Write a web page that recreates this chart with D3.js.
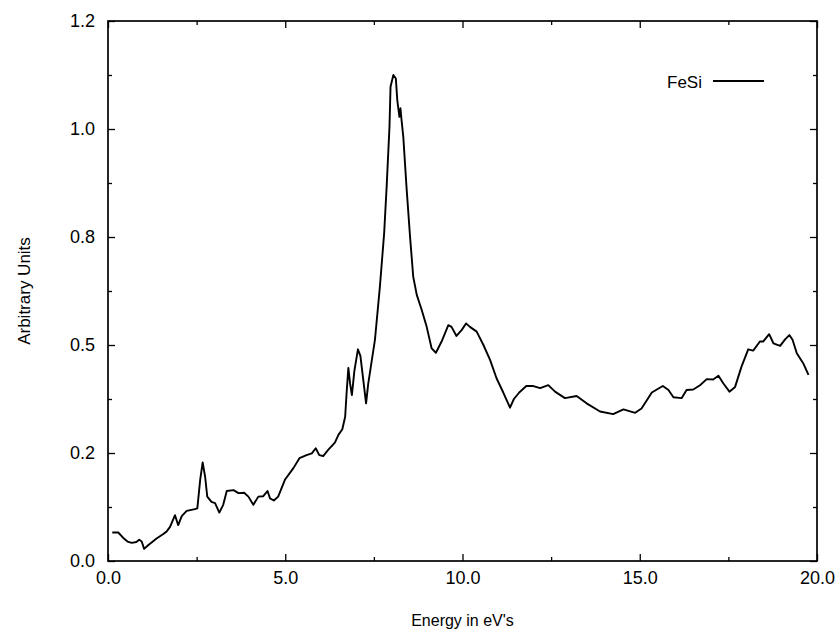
<!DOCTYPE html>
<html>
<head>
<meta charset="utf-8">
<script src="https://cdn.jsdelivr.net/npm/d3@7"></script>
<style>
  body { margin: 0; background: #fff; }
  text { font-family: "Liberation Sans", Arial, sans-serif; fill: #000; }
</style>
</head>
<body>
<svg id="chart" width="838" height="636"></svg>
<script>
// energy (eV) and intensity
var energy = [0.12, 0.29, 0.45, 0.55, 0.67, 0.8, 0.88, 0.95, 1.02, 1.14, 1.37, 1.55, 1.65, 1.75, 1.89, 1.98, 2.08, 2.22, 2.45, 2.52,
  2.6, 2.67, 2.74, 2.8, 2.92, 3.02, 3.14, 3.25, 3.35, 3.54, 3.68, 3.84, 3.96, 4.1, 4.24, 4.38, 4.5, 4.57, 4.68, 4.8,
  4.99, 5.23, 5.4, 5.6, 5.75, 5.86, 5.96, 6.07, 6.21, 6.4, 6.5, 6.61, 6.69, 6.73, 6.78, 6.83, 6.88, 6.95, 7.05, 7.12,
  7.2, 7.28, 7.34, 7.53, 7.67, 7.79, 7.86, 7.94, 7.97, 8.05, 8.12, 8.16, 8.22, 8.25, 8.28, 8.33, 8.42, 8.52, 8.61, 8.71,
  8.85, 8.99, 9.13, 9.25, 9.41, 9.6, 9.69, 9.83, 9.98, 10.1, 10.21, 10.4, 10.59, 10.78, 10.96, 11.15, 11.34, 11.45, 11.6, 11.8,
  12.0, 12.19, 12.42, 12.61, 12.89, 13.22, 13.5, 13.88, 14.25, 14.54, 14.87, 15.05, 15.34, 15.65, 15.81, 15.95, 16.18, 16.32, 16.51, 16.7,
  16.89, 17.07, 17.22, 17.36, 17.53, 17.69, 17.87, 18.06, 18.2, 18.39, 18.48, 18.65, 18.77, 18.96, 19.1, 19.22, 19.31, 19.43, 19.61, 19.76];

var fesi = [0.066, 0.066, 0.052, 0.045, 0.042, 0.044, 0.049, 0.045, 0.028, 0.037, 0.052, 0.062, 0.068, 0.079, 0.106, 0.083, 0.104, 0.116, 0.12, 0.122,
  0.188, 0.228, 0.195, 0.149, 0.137, 0.134, 0.112, 0.13, 0.162, 0.164, 0.157, 0.158, 0.149, 0.13, 0.149, 0.15, 0.162, 0.145, 0.14, 0.149,
  0.188, 0.215, 0.238, 0.245, 0.249, 0.261, 0.245, 0.243, 0.257, 0.274, 0.292, 0.305, 0.334, 0.388, 0.447, 0.41, 0.384, 0.44, 0.49, 0.475,
  0.42, 0.365, 0.41, 0.512, 0.635, 0.759, 0.866, 1.005, 1.098, 1.125, 1.117, 1.067, 1.028, 1.048, 1.021, 0.982, 0.866, 0.751, 0.658, 0.616,
  0.581, 0.542, 0.492, 0.482, 0.508, 0.546, 0.542, 0.521, 0.535, 0.55, 0.542, 0.531, 0.5, 0.465, 0.423, 0.39, 0.355, 0.375, 0.39, 0.405,
  0.405, 0.40, 0.407, 0.392, 0.377, 0.382, 0.365, 0.346, 0.34, 0.351, 0.343, 0.353, 0.39, 0.405, 0.396, 0.379, 0.377, 0.396, 0.397, 0.407,
  0.421, 0.42, 0.429, 0.411, 0.392, 0.403, 0.45, 0.49, 0.487, 0.508, 0.508, 0.525, 0.504, 0.498, 0.513, 0.523, 0.512, 0.481, 0.458, 0.431];

var xTicks = [0, 5, 10, 15, 20];
var xTickLabels = ["0.0", "5.0", "10.0", "15.0", "20.0"];
var yTicks = [0, 0.25, 0.5, 0.75, 1.0, 1.25];
var yTickLabels = ["0.0", "0.2", "0.5", "0.8", "1.0", "1.2"];
var seriesName = "FeSi";

var svg = d3.select("#chart");
var plotLeft = 108, plotRight = 817, plotTop = 21, plotBottom = 561;

var x = d3.scaleLinear().domain([0, 20]).range([plotLeft, plotRight]);
var y = d3.scaleLinear().domain([0, 1.25]).range([plotBottom, plotTop]);

// minor ticks sit halfway between the labelled ones
function minors(ticks) {
  var out = [];
  for (var i = 0; i < ticks.length - 1; i++) out.push((ticks[i] + ticks[i + 1]) / 2);
  return out;
}

function styleAxis(g) {
  g.select(".domain").remove();
  g.selectAll("line").attr("stroke", "#000").attr("stroke-width", 1.3);
  g.selectAll("text").attr("font-size", 18).attr("fill", "#000");
}

// labelled axes, ticks pointing inward
svg.append("g").attr("transform", "translate(0," + plotBottom + ")")
  .call(d3.axisBottom(x).tickValues(xTicks).tickSize(-7).tickPadding(10)
    .tickFormat(function(d, i) { return xTickLabels[i]; }))
  .call(styleAxis);
svg.append("g").attr("transform", "translate(" + plotLeft + ",0)")
  .call(d3.axisLeft(y).tickValues(yTicks).tickSize(-7).tickPadding(13)
    .tickFormat(function(d, i) { return yTickLabels[i]; }))
  .call(styleAxis);

// minor ticks on the same sides
svg.append("g").attr("transform", "translate(0," + plotBottom + ")")
  .call(d3.axisBottom(x).tickValues(minors(xTicks)).tickSize(-4).tickFormat(""))
  .call(styleAxis);
svg.append("g").attr("transform", "translate(" + plotLeft + ",0)")
  .call(d3.axisLeft(y).tickValues(minors(yTicks)).tickSize(-4).tickFormat(""))
  .call(styleAxis);

// mirrored ticks on top and right
svg.append("g").attr("transform", "translate(0," + plotTop + ")")
  .call(d3.axisTop(x).tickValues(xTicks).tickSize(-7).tickFormat(""))
  .call(styleAxis);
svg.append("g").attr("transform", "translate(0," + plotTop + ")")
  .call(d3.axisTop(x).tickValues(minors(xTicks)).tickSize(-4).tickFormat(""))
  .call(styleAxis);
svg.append("g").attr("transform", "translate(" + plotRight + ",0)")
  .call(d3.axisRight(y).tickValues(yTicks).tickSize(-7).tickFormat(""))
  .call(styleAxis);
svg.append("g").attr("transform", "translate(" + plotRight + ",0)")
  .call(d3.axisRight(y).tickValues(minors(yTicks)).tickSize(-4).tickFormat(""))
  .call(styleAxis);

// frame
svg.append("rect")
  .attr("x", plotLeft).attr("y", plotTop)
  .attr("width", plotRight - plotLeft).attr("height", plotBottom - plotTop)
  .attr("fill", "none").attr("stroke", "#000").attr("stroke-width", 1.7);

// the curve
var line = d3.line()
  .x(function(d, i) { return x(energy[i]); })
  .y(function(d) { return y(d); })
  .curve(d3.curveLinear);

svg.append("path")
  .datum(fesi)
  .attr("d", line)
  .attr("fill", "none")
  .attr("stroke", "#000")
  .attr("stroke-width", 1.9)
  .attr("stroke-linejoin", "round");

// legend
svg.append("text")
  .attr("x", 702).attr("y", 82)
  .attr("dy", "0.35em")
  .attr("text-anchor", "end")
  .attr("font-size", 17)
  .text(seriesName);
svg.append("line")
  .attr("x1", 713).attr("x2", 764)
  .attr("y1", 81).attr("y2", 81)
  .attr("stroke", "#000").attr("stroke-width", 1.8);

// axis titles
svg.append("text")
  .attr("x", (plotLeft + plotRight) / 2).attr("y", 626)
  .attr("text-anchor", "middle")
  .attr("font-size", 16)
  .text("Energy in eV's");
svg.append("text")
  .attr("transform", "translate(24," + ((plotTop + plotBottom) / 2) + ") rotate(-90)")
  .attr("dy", "0.35em")
  .attr("text-anchor", "middle")
  .attr("font-size", 17)
  .text("Arbitrary Units");
</script>
</body>
</html>
